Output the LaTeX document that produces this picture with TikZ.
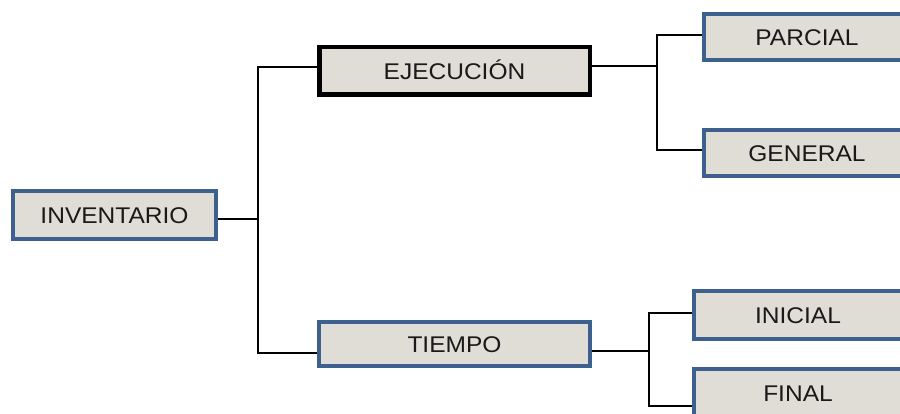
\documentclass[tikz,border=0pt]{standalone}
\usepackage{fontspec}
\setmainfont{Liberation Sans}[FakeStretch=1.08]
\definecolor{boxfill}{RGB}{224,220,214}
\definecolor{boxline}{RGB}{62,96,142}
\begin{document}
\begin{tikzpicture}[x=1pt, y=-1pt,
    box/.style={draw=boxline, line width=4, fill=boxfill, text=black!90,
        font=\fontsize{22.7}{24}\selectfont, text height=16.3pt, text depth=0pt, inner sep=0},
    conn/.style={black, line width=1.4}]
    \useasboundingbox (0,0) rectangle (900,414);
    \clip (0,0) rectangle (900,414);

    % boxes
    \node[box, minimum width=203, minimum height=48] (inv) at (114.5,215) {INVENTARIO};

    \node[box, draw=black, line width=4.5, minimum width=270.5, minimum height=47.5]
        (ejec) at (454.5,71) {EJECUCIÓN};
    \node[box, minimum width=271, minimum height=44] (tiem) at (454.5,344) {TIEMPO};

    \node[box, minimum width=206, minimum height=46] (parc) at (807,37) {PARCIAL};
    \node[box, minimum width=206, minimum height=46] (gen) at (807,153) {GENERAL};
    \node[box, minimum width=208, minimum height=48] (ini) at (798,315) {INICIAL};
    \node[box, minimum width=208, minimum height=48] (fin) at (798,393) {FINAL};

    % joints
    \coordinate (jL) at (258,219);
    \coordinate (jE) at (258,67);
    \coordinate (jT) at (258,353);
    \coordinate (kE) at (657,66);
    \coordinate (kP) at (657,35);
    \coordinate (kG) at (657,150);
    \coordinate (kT) at (649,351);
    \coordinate (kI) at (649,313);
    \coordinate (kF) at (649,406);

    % connectors
    \draw[conn] (inv.east |- jL) -- (jL);
    \draw[conn] (ejec.west |- jE) -- (jE) -- (jT) -- (tiem.west |- jT);

    \draw[conn] (ejec.east |- kE) -- (kE);
    \draw[conn] (parc.west |- kP) -- (kP) -- (kG) -- (gen.west |- kG);

    \draw[conn] (tiem.east |- kT) -- (kT);
    \draw[conn] (ini.west |- kI) -- (kI) -- (kF) -- (fin.west |- kF);
\end{tikzpicture}
\end{document}
